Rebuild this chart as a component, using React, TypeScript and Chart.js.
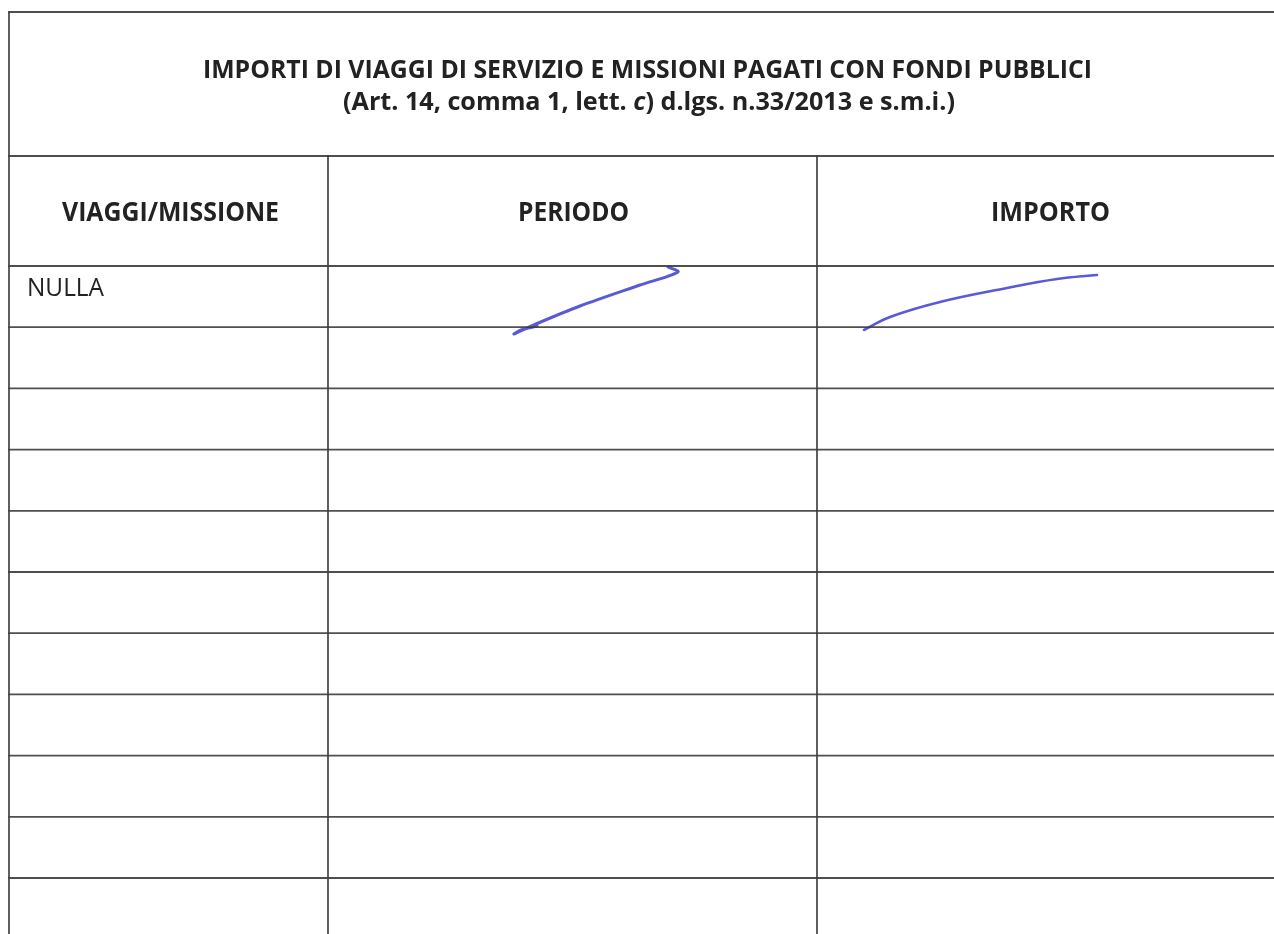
import React, { useEffect, useRef } from "react";
import { Chart, registerables } from "chart.js";

Chart.register(...registerables);

// ---- content / data ----
const titleText = "IMPORTI DI VIAGGI DI SERVIZIO E MISSIONI PAGATI CON FONDI PUBBLICI";
const subtitleParts = ["(Art. 14, comma 1, lett. ", "c", ") d.lgs. n.33/2013 e s.m.i.)"];
const subtitleItalic = [false, true, false];
const columns = ["VIAGGI/MISSIONE", "PERIODO", "IMPORTO"];
const rowEntries = ["NULLA", "", "", "", "", "", "", "", "", "", ""];

// hand-drawn strokes
const periodoStrokeX = [668, 678, 640, 580, 536, 514, 521, 537];
const periodoStrokeY = [267, 272, 285, 306, 324, 334, 330, 326];
const importoStrokeX = [864, 890, 940, 1007, 1057, 1097];
const importoStrokeY = [330, 317, 302, 288, 279, 275];

// ---- layout ----
const W = 1274;
const H = 934;
const tableLeft = 9;
const titleTop = 12;
const headerTop = 156;
const headerBottom = 266;
const rowHeight = 61.2;
const colEdges = [9, 328, 817, W + 10];
const lineColor = "rgba(60,60,60,0.9)";
const inkColor = "#5a5ad8";
const textColor = "#222";

function fitText(ctx: CanvasRenderingContext2D, parts: string[], italics: boolean[], bold: boolean, size: number, left: number, right: number, baseline: number) {
  const fonts = parts.map((_, i) => `${italics[i] ? "italic " : ""}${bold ? "bold " : ""}${size}px "Open Sans", sans-serif`);
  let total = 0;
  const widths = parts.map((p, i) => {
    ctx.font = fonts[i];
    const w = ctx.measureText(p).width;
    total += w;
    return w;
  });
  const sx = (right - left) / total;
  ctx.save();
  ctx.translate(left, baseline);
  ctx.scale(sx, 1);
  let x = 0;
  parts.forEach((p, i) => {
    ctx.font = fonts[i];
    ctx.fillText(p, x, 0);
    x += widths[i];
  });
  ctx.restore();
}

export default function App() {
  const ref = useRef<HTMLCanvasElement | null>(null);

  useEffect(() => {
    if (!ref.current) return;
    const datasets: any[] = [];
    const seg = (pts: { x: number; y: number }[], color: string, width: number, tension = 0) => {
      datasets.push({
        data: pts,
        showLine: true,
        borderColor: color,
        borderWidth: width,
        pointRadius: 0,
        tension,
        borderCapStyle: "round",
        borderJoinStyle: "round",
      });
    };
    // horizontal rules
    const hs = [titleTop, headerTop, ...rowEntries.map((_, i) => headerBottom + i * rowHeight)];
    hs.forEach((y) => seg([{ x: tableLeft, y }, { x: W + 10, y }], lineColor, 1.8));
    // vertical rules
    seg([{ x: tableLeft, y: titleTop }, { x: tableLeft, y: H + 10 }], lineColor, 1.8);
    colEdges.slice(1, 3).forEach((x) => seg([{ x, y: headerTop }, { x, y: H + 10 }], lineColor, 1.8));
    // ink strokes
    seg(periodoStrokeX.map((x, i) => ({ x, y: periodoStrokeY[i] })), inkColor, 3, 0.3);
    seg(importoStrokeX.map((x, i) => ({ x, y: importoStrokeY[i] })), inkColor, 2.6, 0.4);

    const textPlugin = {
      id: "tableText",
      afterDatasetsDraw(chart: any) {
        const ctx: CanvasRenderingContext2D = chart.ctx;
        const sx = chart.scales.x;
        const sy = chart.scales.y;
        const px = (v: number) => sx.getPixelForValue(v);
        const py = (v: number) => sy.getPixelForValue(v);
        ctx.save();
        ctx.fillStyle = textColor;
        ctx.textBaseline = "alphabetic";
        fitText(ctx, [titleText], [false], true, 25, px(203), px(1092), py(78));
        fitText(ctx, subtitleParts, subtitleItalic, true, 25, px(343), px(955), py(110));
        const headerSpans = [[62, 279], [518, 629], [991, 1110]];
        columns.forEach((c, i) => fitText(ctx, [c], [false], true, 26, px(headerSpans[i][0]), px(headerSpans[i][1]), py(221)));
        rowEntries.forEach((r, i) => {
          if (!r) return;
          fitText(ctx, [r], [false], false, 25, px(27), px(104), py(headerBottom + i * rowHeight + 30));
        });
        ctx.restore();
      },
    };

    const chart = new Chart(ref.current, {
      type: "scatter",
      data: { datasets },
      options: {
        animation: false,
        responsive: false,
        devicePixelRatio: 1,
        layout: { padding: 0 },
        plugins: { legend: { display: false }, tooltip: { enabled: false }, title: { display: false } },
        scales: {
          x: { type: "linear", min: 0, max: W, display: false },
          y: { type: "linear", min: 0, max: H, reverse: true, display: false },
        },
      },
      plugins: [textPlugin],
    });
    return () => chart.destroy();
  }, []);

  return (
    <div style={{ position: "absolute", left: 0, top: 0, width: W, height: H, background: "#fff" }}>
      <canvas ref={ref} width={W} height={H} style={{ display: "block" }} />
    </div>
  );
}
